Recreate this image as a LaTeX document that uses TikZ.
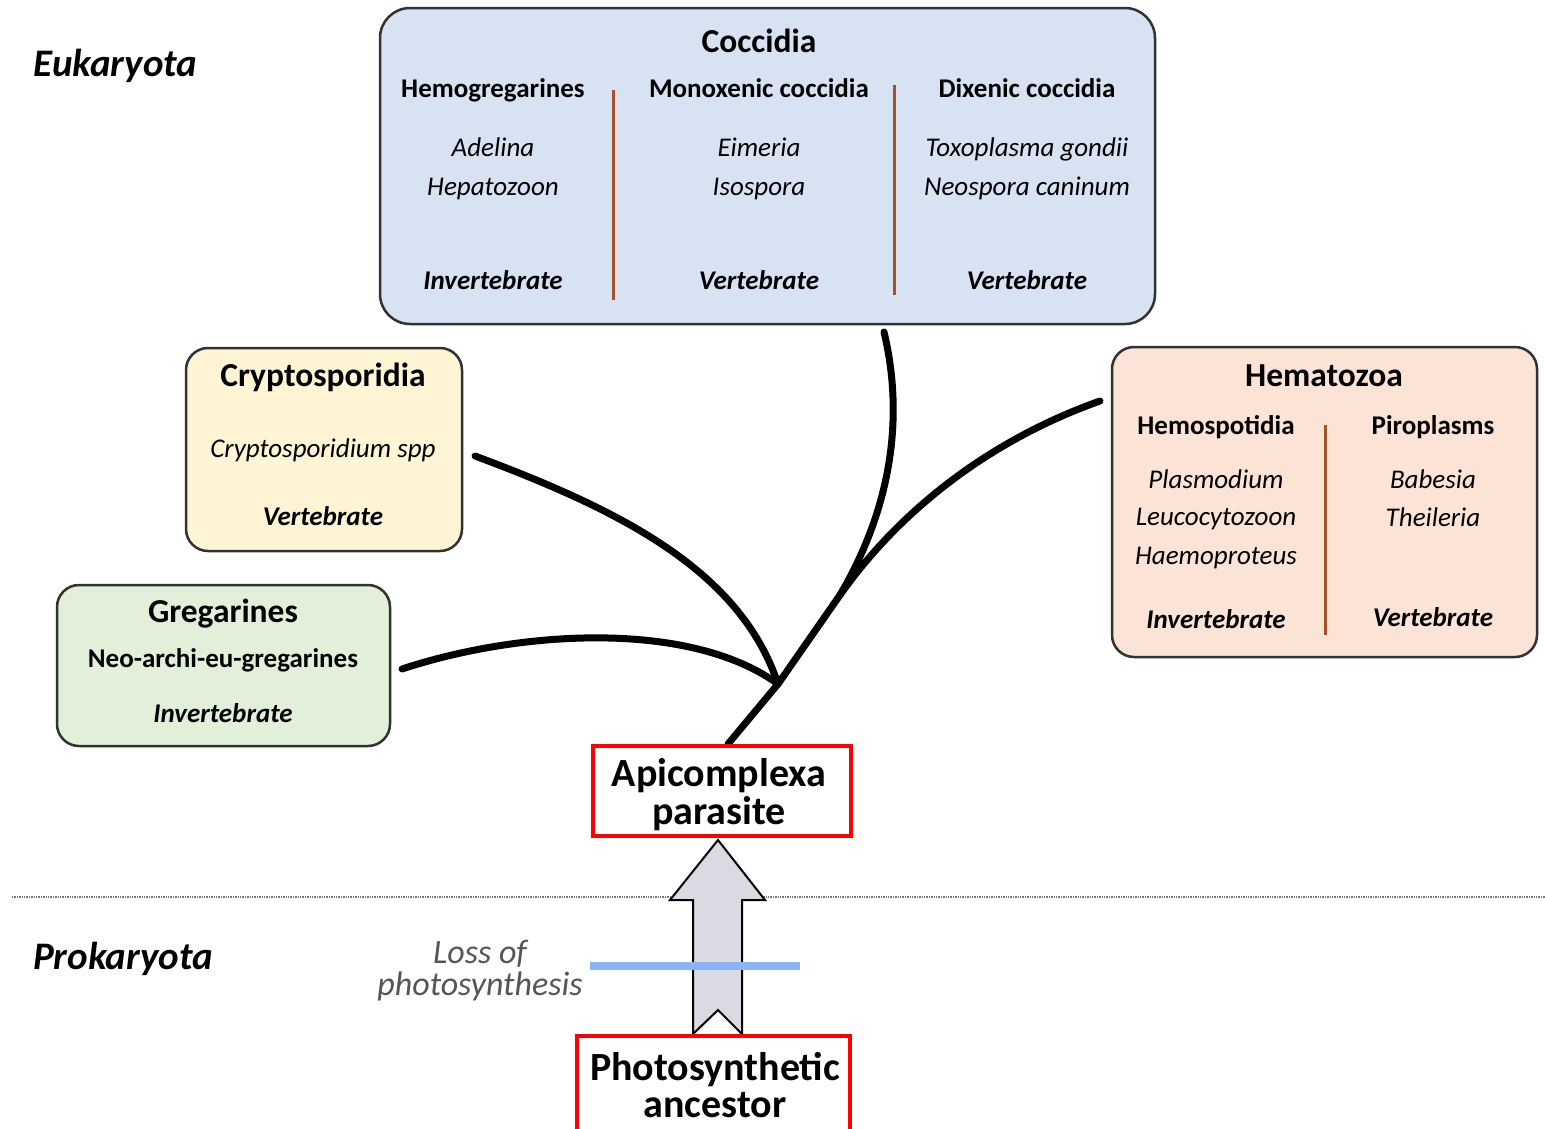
\documentclass[tikz,border=0pt]{standalone}
\usepackage{fontspec}
\setmainfont{Carlito}
\definecolor{boxborder}{RGB}{50,50,50}
\definecolor{coccfill}{RGB}{215,226,243}
\definecolor{cryptfill}{RGB}{255,244,212}
\definecolor{gregfill}{RGB}{226,240,217}
\definecolor{hemafill}{RGB}{251,228,213}
\definecolor{divbrown}{RGB}{165,82,40}
\definecolor{lossblue}{RGB}{138,180,248}
\definecolor{arrowfill}{RGB}{217,218,226}
\definecolor{sepgray}{RGB}{120,120,120}
\definecolor{lossgray}{RGB}{85,85,85}
\newcommand\myTitle{\fontsize{33.5}{40}\selectfont\bfseries}
\newcommand\myHead{\fontsize{27}{32}\selectfont\bfseries}
\newcommand\mySpec{\fontsize{27}{32}\selectfont\itshape}
\newcommand\myHost{\fontsize{27}{32}\selectfont\bfseries\itshape}
\begin{document}
\begin{tikzpicture}[x=1pt,y=-1pt,
  groupbox/.style={draw=boxborder, line width=2.5pt, rounded corners=22pt, inner sep=0pt},
  redbox/.style={draw=red, line width=4.5pt, fill=white, inner sep=0pt},
  txtline/.style={inner sep=0pt, text height=0.64em, text depth=0pt, anchor=center, yshift=-6pt},
  grptitle/.style={txtline, font=\myTitle},
  grphead/.style={txtline, font=\myHead},
  grpspec/.style={txtline, font=\mySpec},
  grphost/.style={txtline, font=\myHost},
  bigline/.style={inner sep=0pt, text height=0.7em, text depth=0.2em, anchor=center, font=\fontsize{40}{36}\selectfont\bfseries},
  lossline/.style={inner sep=0pt, text height=0.66em, text depth=0.2em, anchor=center, text=lossgray, font=\fontsize{34}{30}\selectfont\itshape},
  divline/.style={draw=divbrown, line width=3pt},
  treebranch/.style={line width=7pt, line cap=round, line join=round},
  domainlabel/.style={inner sep=0pt, text height=0.64em, text depth=0pt, anchor=west, yshift=-9pt, font=\fontsize{39}{46}\selectfont\bfseries\itshape}
]
\useasboundingbox (0,0) rectangle (1545,1128);
\fill[white] (0,0) rectangle (1545,1128);

% domain labels
\node[domainlabel] (euk) at (33,64) {Eukaryota};
\node[domainlabel] (prok) at (33,957) {Prokaryota};

% separator
\coordinate (sepL) at (12,897);
\coordinate (sepR) at (1545,897);
\draw[sepgray, line width=1.4pt, densely dotted] (sepL) -- (sepR);

% Coccidia
\node[groupbox, fill=coccfill, minimum width=775pt, minimum height=316pt, rounded corners=30pt] (cocc) at (767.5,166) {};
\node[grptitle] (cocc-t) at (759,43) {Coccidia};
\node[grphead] (cocc-h1) at (493,88) {Hemogregarines};
\node[grphead] (cocc-h2) at (759,88) {Monoxenic coccidia};
\node[grphead] (cocc-h3) at (1027,88) {Dixenic coccidia};
\node[grpspec] (cocc-s1a) at (493,147) {Adelina};
\node[grpspec] (cocc-s1b) at (493,186) {Hepatozoon};
\node[grpspec] (cocc-s2a) at (759,147) {Eimeria};
\node[grpspec] (cocc-s2b) at (759,186) {Isospora};
\node[grpspec] (cocc-s3a) at (1027,147) {Toxoplasma gondii};
\node[grpspec] (cocc-s3b) at (1027,186) {Neospora caninum};
\node[grphost] (cocc-v1) at (493,280) {Invertebrate};
\node[grphost] (cocc-v2) at (759,280) {Vertebrate};
\node[grphost] (cocc-v3) at (1027,280) {Vertebrate};
\coordinate (cd1a) at (613,90); \coordinate (cd1b) at (613,300);
\coordinate (cd2a) at (894,85); \coordinate (cd2b) at (894,295);
\draw[divline] (cd1a) -- (cd1b);
\draw[divline] (cd2a) -- (cd2b);

% Cryptosporidia
\node[groupbox, fill=cryptfill, minimum width=276pt, minimum height=203pt] (crypt) at (324,449.5) {};
\node[grptitle] (crypt-t) at (323,377) {Cryptosporidia};
\node[grpspec] (crypt-s) at (323,448) {Cryptosporidium spp};
\node[grphost] (crypt-v) at (323,516) {Vertebrate};

% Gregarines
\node[groupbox, fill=gregfill, minimum width=333pt, minimum height=161pt] (greg) at (223.5,665.5) {};
\node[grptitle] (greg-t) at (223,613) {Gregarines};
\node[grphead] (greg-h) at (223,658) {Neo-archi-eu-gregarines};
\node[grphost] (greg-v) at (223,713) {Invertebrate};

% Hematozoa
\node[groupbox, fill=hemafill, minimum width=425pt, minimum height=310pt] (hema) at (1324.5,502) {};
\node[grptitle] (hema-t) at (1324,377) {Hematozoa};
\node[grphead] (hema-h1) at (1216,425) {Hemospotidia};
\node[grphead] (hema-h2) at (1433,425) {Piroplasms};
\node[grpspec] (hema-s1a) at (1216,479) {Plasmodium};
\node[grpspec] (hema-s1b) at (1216,516) {Leucocytozoon};
\node[grpspec] (hema-s1c) at (1216,555) {Haemoproteus};
\node[grpspec] (hema-s2a) at (1433,479) {Babesia};
\node[grpspec] (hema-s2b) at (1433,517) {Theileria};
\node[grphost] (hema-v1) at (1216,619) {Invertebrate};
\node[grphost] (hema-v2) at (1433,617) {Vertebrate};
\coordinate (hd1a) at (1325,425); \coordinate (hd1b) at (1325,635);
\draw[divline] (hd1a) -- (hd1b);

% tree
\coordinate (J) at (778,684);
\coordinate (M) at (840,595);
\coordinate (trunk) at (728,744);
\coordinate (bGreg) at (402,669);
\coordinate (bCrypt) at (475,456);
\coordinate (bCocc) at (884,332);
\coordinate (bHema) at (1100,401);
\draw[treebranch] (bGreg) .. controls (520,630) and (690,620) .. (J);
\draw[treebranch] (bCrypt) .. controls (620,510) and (740,570) .. (J);
\draw[treebranch] (bCocc) .. controls (905,420) and (890,510) .. (M);
\draw[treebranch] (bHema) .. controls (990,440) and (900,510) .. (M);
\draw[treebranch] (M) -- (J) -- (trunk);

% Apicomplexa box
\node[redbox, minimum width=258pt, minimum height=90pt] (api) at (722,791) {};
\node[bigline] (api-t1) at (719,784) {Apicomplexa};
\node[bigline] (api-t2) at (719,822) {parasite};

% big arrow
\draw[black, line width=2pt, fill=arrowfill, line join=miter]
  (718,840) -- (765,900) -- (742,900) -- (742,1034) -- (718,1010) -- (693,1034) -- (693,900) -- (670,900) -- cycle;

% loss of photosynthesis
\coordinate (lossL) at (590,966);
\coordinate (lossR) at (800,966);
\draw[lossblue, line width=8pt] (lossL) -- (lossR);
\node[lossline] (loss1) at (480,961) {Loss of};
\node[lossline] (loss2) at (480,993) {photosynthesis};

% photosynthetic ancestor
\node[redbox, minimum width=273pt, minimum height=108pt] (anc) at (713.5,1090) {};
\node[bigline] (anc-t1) at (715,1078) {Photosynthetic};
\node[bigline] (anc-t2) at (715,1115) {ancestor};
\end{tikzpicture}
\end{document}
